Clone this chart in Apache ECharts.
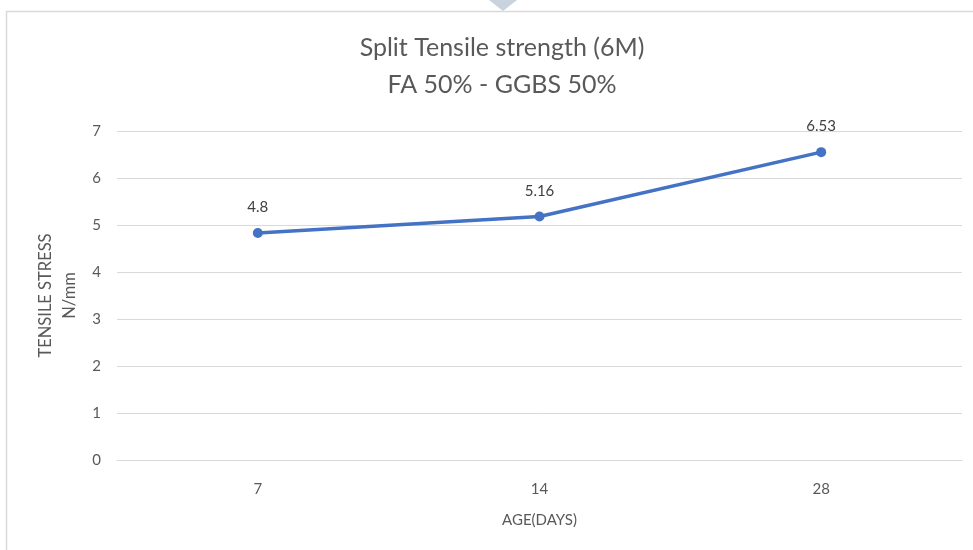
<!DOCTYPE html>
<html>
<head>
<meta charset="utf-8">
<script src="https://cdn.jsdelivr.net/npm/echarts@6/dist/echarts.min.js"></script>
<style>
html,body{margin:0;padding:0;background:#fff;}
#c{width:973px;height:550px;}
</style>
</head>
<body>
<div id="c"></div>
<script>
const categories = ['7', '14', '28'];
const values = [4.83, 5.18, 6.55];
const valueLabels = ['4.8', '5.16', '6.53'];
const yTicks = [0, 1, 2, 3, 4, 5, 6, 7];

const chart = echarts.init(document.getElementById('c'));
const font = 'Lato, "Open Sans", sans-serif';
chart.setOption({
  animation: false,
  backgroundColor: '#ffffff',
  graphic: [
    { type: 'rect', shape: { x: 6.5, y: 11.5, width: 1000, height: 600 }, style: { fill: 'none', stroke: '#d9d9d9', lineWidth: 1.5 }, z: -1 },
    { type: 'polygon', shape: { points: [[489, 0], [517, 0], [503, 11]] }, style: { fill: '#c9d3de' } }
  ],
  title: {
    text: 'Split Tensile strength (6M)\nFA 50% - GGBS 50%',
    left: 497, top: 24, textAlign: 'center',
    textStyle: { fontFamily: font, fontSize: 25, fontWeight: 'normal', color: '#595959', lineHeight: 37 }
  },
  grid: { left: 117, right: 11, top: 131, bottom: 90 },
  xAxis: {
    type: 'category', data: categories, boundaryGap: true,
    name: 'AGE(DAYS)', nameLocation: 'middle', nameGap: 53,
    nameTextStyle: { fontFamily: font, fontSize: 15, color: '#595959' },
    axisLine: { lineStyle: { color: '#d9d9d9', width: 1 } },
    axisTick: { show: false },
    axisLabel: { fontFamily: font, fontSize: 15, color: '#595959', margin: 22 }
  },
  yAxis: {
    type: 'value', min: 0, max: 7, interval: 1,
    name: 'TENSILE STRESS\nN/mm', nameLocation: 'middle', nameGap: 30, nameRotate: 90,
    nameTextStyle: { fontFamily: font, fontSize: 16.5, color: '#595959', lineHeight: 24 },
    axisLine: { show: false }, axisTick: { show: false },
    splitLine: { lineStyle: { color: '#d9d9d9', width: 1 } },
    axisLabel: { fontFamily: font, fontSize: 15, color: '#595959', margin: 16,
      formatter: v => yTicks.includes(v) ? String(v) : '' }
  },
  series: [{
    type: 'line', data: values,
    lineStyle: { color: '#4472C4', width: 3.5 },
    itemStyle: { color: '#4472C4' },
    symbol: 'circle', symbolSize: 10,
    label: { show: true, position: 'top', distance: 13, fontFamily: font, fontSize: 15, color: '#404040',
      formatter: p => valueLabels[p.dataIndex] }
  }]
});
</script>
</body>
</html>
